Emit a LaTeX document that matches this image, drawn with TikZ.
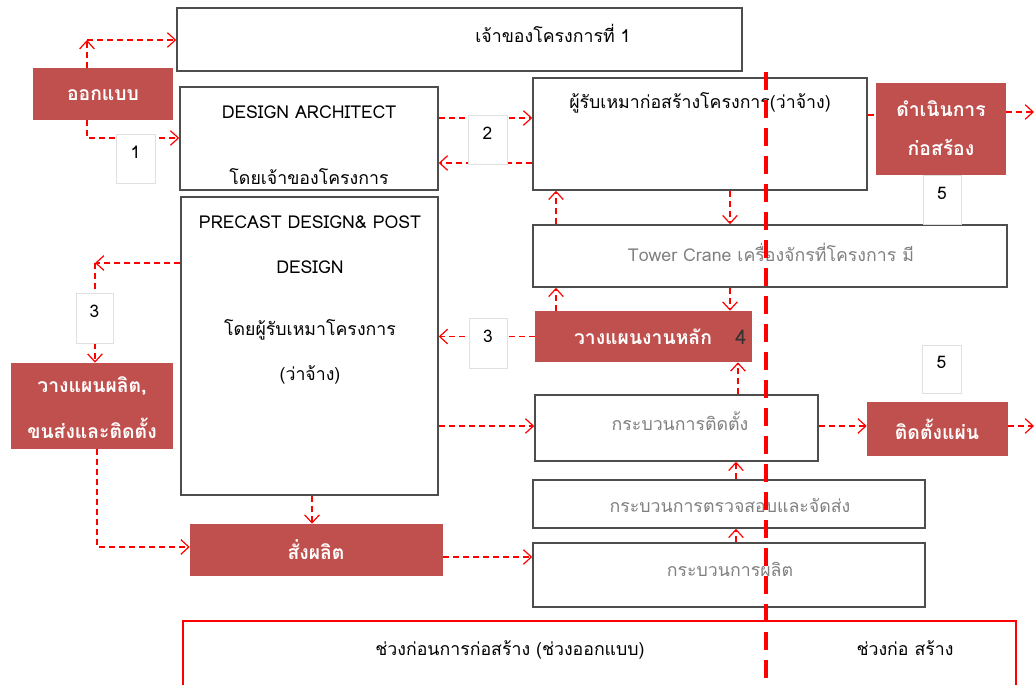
\documentclass[tikz,border=0pt]{standalone}
\usepackage{fontspec}
\setmainfont{Loma}[Script=Thai]
\usetikzlibrary{arrows.meta,fit,calc}
\definecolor{boxred}{HTML}{C0504D}
\definecolor{framegray}{HTML}{4D4D4D}
\definecolor{softtext}{HTML}{808080}
\definecolor{tagline}{HTML}{E0E0E0}
\begin{document}
\begin{tikzpicture}[x=0.75pt,y=-0.75pt,
  font=\fontsize{13.3}{15}\selectfont,
  plain/.style={draw=framegray, line width=1.1pt, fill=white, inner sep=0pt},
  task/.style={fill=boxred, draw=none, inner sep=0pt},
  tasktext/.style={text=white, font=\fontsize{14.5}{16}\selectfont\bfseries},
  tag/.style={draw=tagline, fill=white, line width=0.6pt, inner sep=0pt, font=\fontsize{13}{15}\selectfont},
  dim/.style={text=softtext},
  flowline/.style={draw=red, line width=0.9pt, dash pattern=on 4.5pt off 3pt},
  flow/.style={flowline, -{Straight Barb[length=6pt,width=11pt,line width=0.9pt]}},
  stage/.style={draw=red, line width=2.2pt},
  divider/.style={draw=red, line width=3pt, dash pattern=on 13.5pt off 7.5pt},
]
\useasboundingbox (0,0) rectangle (1036,685);
\fill[white] (0,0) rectangle (1036,685);

% ---- boxes -------------------------------------------------------------
\node[plain, fit={(177,8)(742,71)}] (owner) {};
\node[task, fit={(33,68)(173,120)}] (des) {};
\node[plain, fit={(180,87)(438,190)}] (arch) {};
\node[plain, fit={(533,78)(867,190)}] (contr) {};
\node[task, fit={(876,83)(1006,175)}] (build) {};
\node[plain, fit={(533,225)(1007,287)}] (crane) {};
\node[plain, fit={(181,197)(438,495)}] (pre) {};
\node[task, fit={(535,311)(752,362)}] (plan) {};
\node[task, fit={(11,363)(173,449)}] (prodplan) {};
\node[plain, fit={(535,395)(818,461)}] (inst) {};
\node[task, fit={(867,402)(1008,456)}] (panel) {};
\node[plain, fit={(533,480)(925,528)}] (check) {};
\node[task, fit={(190,524)(443,576)}] (order) {};
\node[plain, fit={(533,543)(925,607)}] (make) {};

% ---- texts -------------------------------------------------------------
\node (ownerT) at (553,33) {เจ้าของโครงการที่ 1};
\node[tasktext] (desT) at (103,95) {ออกแบบ};
\node (archT1) at (309,112) {DESIGN ARCHITECT};
\node (archT2) at (309,177) {โดยเจ้าของโครงการ};
\node (contrT) at (700,103) {ผู้รับเหมาก่อสร้างโครงการ(ว่าจ้าง)};
\node[tasktext] (buildT1) at (941,109) {ดำเนินการ};
\node[tasktext] (buildT2) at (941,147) {ก่อสร้อง};
\node[dim] (craneT) at (771,252) {Tower Crane เครื่องจักรที่โครงการ มี};
\node (preT1) at (310,222) {PRECAST DESIGN\& POST};
\node (preT2) at (310,267) {DESIGN};
\node (preT3) at (310,330) {โดยผู้รับเหมาโครงการ};
\node (preT4) at (310,375) {(ว่าจ้าง)};
\node[tasktext] (planT) at (643,337) {วางแผนงานหลัก};
\node[font=\fontsize{15}{17}\selectfont, text=black!80] (planN) at (741,337) {4};
\node[tasktext] (prodT1) at (92,386) {วางแผนผลิต,};
\node[tasktext] (prodT2) at (92,428) {ขนส่งและติดตั้ง};
\node[dim] (instT) at (680,421) {กระบวนการติดตั้ง};
\node[tasktext] (panelT) at (937,429) {ติดตั้งแผ่น};
\node[dim] (checkT) at (730,505) {กระบวนการตรวจสอบและจัดส่ง};
\node[tasktext] (orderT) at (316,550) {สั่งผลิต};
\node[dim] (makeT) at (730,569) {กระบวนการผลิต};

% ---- reference levels for connectors -----------------------------------
\coordinate (k1) at (87,40);
\coordinate (k2) at (87,138);
\coordinate (k3) at (95,263);
\coordinate (k4) at (97,547);
\coordinate (h118) at (0,118);
\coordinate (h163) at (0,163);
\coordinate (h115) at (0,115);
\coordinate (h426) at (0,426);
\coordinate (h557) at (0,557);
\coordinate (v730) at (730,0);
\coordinate (v556) at (556,0);
\coordinate (v312) at (312,0);
\coordinate (v736) at (736,0);
\coordinate (v738) at (738,0);
\coordinate (out1) at (1034,112);
\coordinate (out2) at (1034,426);

% ---- connectors --------------------------------------------------------
\draw[flow] (des.north -| k1) -- (k1);
\draw[flow] (k1) -- (k1 -| owner.west);
\draw[flow] (des.south -| k2) |- (arch.west |- k2);
\draw[flow] (arch.east |- h118) -- (contr.west |- h118);
\draw[flow] (contr.west |- h163) -- (arch.east |- h163);
\draw[flowline] (contr.east |- h115) -- (build.west |- h115);
\draw[flow] (build.east |- out1) -- (out1);
\draw[flow] (contr.south -| v730) -- (crane.north -| v730);
\draw[flow] (crane.south -| v730) -- (plan.north -| v730);
\draw[flow] (plan.north -| v556) -- (crane.south -| v556);
\draw[flow] (crane.north -| v556) -- (contr.south -| v556);
\draw[flow] (plan.west) -- (pre.east |- plan.west);
\draw[flow] (pre.west |- k3) -- (k3);
\draw[flow] (k3) -- (prodplan.north -| k3);
\draw[flow] (prodplan.south -| k4) |- (order.west |- k4);
\draw[flow] (pre.south -| v312) -- (order.north -| v312);
\draw[flow] (order.east |- h557) -- (make.west |- h557);
\draw[flow] (pre.east |- h426) -- (inst.west |- h426);
\draw[flow] (make.north -| v736) -- (check.south -| v736);
\draw[flow] (check.north -| v736) -- (inst.south -| v736);
\draw[flow] (inst.north -| v738) -- (plan.south -| v738);
\draw[flow] (inst.east |- h426) -- (panel.west |- h426);
\draw[flow] (panel.east |- out2) -- (out2);

% ---- step numbers ------------------------------------------------------
\node[tag, fit={(116,134)(155,183)}] (tag1) {1};
\node[tag, fit={(468,115)(507,164)}] (tag2) {2};
\node[tag, fit={(469,318)(507,368)}] (tag3a) {3};
\node[tag, fit={(76,293)(113,343)}] (tag3b) {3};
\node[tag, fit={(923,175)(961,224)}] (tag5a) {5};
\node[tag, fit={(922,345)(961,393)}] (tag5b) {5};

% ---- project phases ----------------------------------------------------
\coordinate (sA) at (183,690);
\coordinate (sB) at (183,621);
\coordinate (sC) at (1016,621);
\coordinate (sD) at (1016,690);
\draw[stage] (sA) -- (sB) -- (sC) -- (sD);
\node (phase1) at (510,650) {ช่วงก่อนการก่อสร้าง (ช่วงออกแบบ)};
\node (phase2) at (905,648) {ช่วงก่อ สร้าง};

% ---- divider between design and construction ---------------------------
\coordinate (dEnd) at (766,685);
\draw[divider] (owner.south -| dEnd) -- (dEnd);
\end{tikzpicture}
\end{document}
